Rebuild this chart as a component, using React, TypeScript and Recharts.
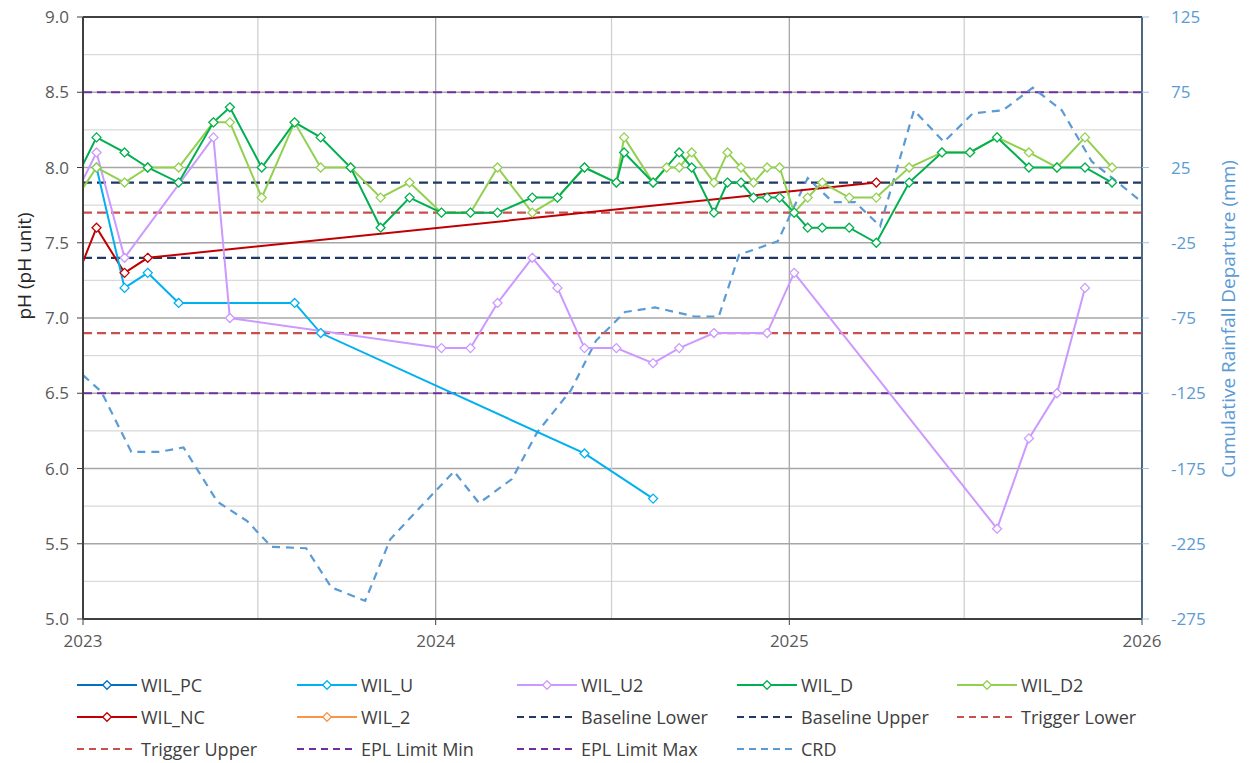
import React from 'react';
import { LineChart, Line, XAxis, YAxis, ReferenceLine } from 'recharts';

// ---------- data ----------
const X_START = '2023-01-01';
const X_END = '2026-01-01';
const yearTicks = ['2023-01-01', '2024-01-01', '2025-01-01', '2026-01-01'];
const minorXGrid = ['2023-07-01', '2024-07-01', '2025-07-01'];
const majorXGrid = ['2024-01-01', '2025-01-01'];
const phTicks = [5.0, 5.5, 6.0, 6.5, 7.0, 7.5, 8.0, 8.5, 9.0];
const phMinorGrid = [5.25, 5.75, 6.25, 6.75, 7.25, 7.75, 8.25, 8.75];
const phMajorGrid = [5.5, 6.0, 6.5, 7.0, 7.5, 8.0, 8.5];
const crdTicks = [125, 75, 25, -25, -75, -125, -175, -225, -275];

const wilPCDates: string[] = [];
const wilPCValues: number[] = [];
const wil2Dates: string[] = [];
const wil2Values: number[] = [];

const wilUDates = ['2023-01-15', '2023-02-13', '2023-03-09', '2023-04-10', '2023-08-08', '2023-09-04', '2024-06-03', '2024-08-13'];
const wilUValues = [8.0, 7.2, 7.3, 7.1, 7.1, 6.9, 6.1, 5.8];

const wilU2Dates = ['2022-12-15', '2023-01-15', '2023-02-13', '2023-05-16', '2023-06-02', '2024-01-07', '2024-02-06', '2024-03-05', '2024-04-10', '2024-05-06', '2024-06-03', '2024-07-06', '2024-08-13', '2024-09-09', '2024-10-15', '2024-12-09', '2025-01-06', '2025-08-04', '2025-09-06', '2025-10-05', '2025-11-03'];
const wilU2Values = [7.7, 8.1, 7.4, 8.2, 7.0, 6.8, 6.8, 7.1, 7.4, 7.2, 6.8, 6.8, 6.7, 6.8, 6.9, 6.9, 7.3, 5.6, 6.2, 6.5, 7.2];

const wilDDates = ['2022-12-15', '2023-01-15', '2023-02-13', '2023-03-09', '2023-04-10', '2023-05-16', '2023-06-02', '2023-07-05', '2023-08-08', '2023-09-04', '2023-10-05', '2023-11-05', '2023-12-05', '2024-01-07', '2024-02-06', '2024-03-05', '2024-04-10', '2024-05-06', '2024-06-03', '2024-07-06', '2024-07-14', '2024-08-13', '2024-09-09', '2024-09-22', '2024-10-15', '2024-10-29', '2024-11-12', '2024-11-25', '2024-12-09', '2024-12-22', '2025-01-06', '2025-01-20', '2025-02-04', '2025-03-04', '2025-04-01', '2025-05-05', '2025-06-08', '2025-07-07', '2025-08-04', '2025-09-06', '2025-10-05', '2025-11-03', '2025-12-01'];
const wilDValues = [7.8, 8.2, 8.1, 8.0, 7.9, 8.3, 8.4, 8.0, 8.3, 8.2, 8.0, 7.6, 7.8, 7.7, 7.7, 7.7, 7.8, 7.8, 8.0, 7.9, 8.1, 7.9, 8.1, 8.0, 7.7, 7.9, 7.9, 7.8, 7.8, 7.8, 7.7, 7.6, 7.6, 7.6, 7.5, 7.9, 8.1, 8.1, 8.2, 8.0, 8.0, 8.0, 7.9];

const wilD2Dates = ['2022-12-15', '2023-01-15', '2023-02-13', '2023-03-09', '2023-04-10', '2023-05-16', '2023-06-02', '2023-07-05', '2023-08-08', '2023-09-04', '2023-10-05', '2023-11-05', '2023-12-05', '2024-01-07', '2024-02-06', '2024-03-05', '2024-04-10', '2024-05-06', '2024-06-03', '2024-07-06', '2024-07-14', '2024-08-13', '2024-08-27', '2024-09-09', '2024-09-22', '2024-10-15', '2024-10-29', '2024-11-12', '2024-11-25', '2024-12-09', '2024-12-22', '2025-01-06', '2025-01-20', '2025-02-04', '2025-03-04', '2025-04-01', '2025-05-05', '2025-06-08', '2025-07-07', '2025-08-04', '2025-09-06', '2025-10-05', '2025-11-03', '2025-12-01'];
const wilD2Values = [7.7, 8.0, 7.9, 8.0, 8.0, 8.3, 8.3, 7.8, 8.3, 8.0, 8.0, 7.8, 7.9, 7.7, 7.7, 8.0, 7.7, 7.8, 8.0, 7.9, 8.2, 7.9, 8.0, 8.0, 8.1, 7.9, 8.1, 8.0, 7.9, 8.0, 8.0, 7.7, 7.8, 7.9, 7.8, 7.8, 8.0, 8.1, 8.1, 8.2, 8.1, 8.0, 8.2, 8.0];

const wilNCDates = ['2022-12-15', '2023-01-15', '2023-02-13', '2023-03-09', '2025-04-01'];
const wilNCValues = [7.1, 7.6, 7.3, 7.4, 7.9];

const baselineLower = 7.4;
const baselineUpper = 7.9;
const triggerLower = 6.9;
const triggerUpper = 7.7;
const eplMin = 6.5;
const eplMax = 8.5;

const crdDates = ['2023-01-01', '2023-01-20', '2023-02-20', '2023-03-20', '2023-04-15', '2023-05-20', '2023-06-20', '2023-07-15', '2023-08-20', '2023-09-15', '2023-10-20', '2023-11-15', '2023-12-20', '2024-01-20', '2024-02-15', '2024-03-20', '2024-04-15', '2024-05-20', '2024-06-15', '2024-07-15', '2024-08-15', '2024-09-25', '2024-10-20', '2024-11-10', '2024-12-20', '2025-01-20', '2025-02-15', '2025-03-10', '2025-04-05', '2025-05-10', '2025-06-10', '2025-07-10', '2025-08-10', '2025-09-10', '2025-10-10', '2025-11-10', '2026-01-01'];
const crdValues = [-113, -124, -164, -164, -161, -197, -210, -227, -228, -254, -263, -222, -198, -177, -198, -182, -151, -123, -90, -71, -68, -74, -74, -33, -24, 18, 2, 2, -14, 63, 42, 61, 63, 78, 63, 29, 2];

// ---------- helpers ----------
const ts = (d: string) => Date.parse(d + 'T00:00:00Z');
const zip = (dates: string[], vals: number[]) => dates.map((d, i) => ({ x: ts(d), y: vals[i] }));
const flat = (v: number) => [{ x: ts(X_START), y: v }, { x: ts(X_END), y: v }];

const C = {
  pc: '#0070C0',
  u: '#00B0F0',
  u2: '#CC99FF',
  d: '#00B050',
  d2: '#92D050',
  nc: '#C00000',
  w2: '#F79646',
  base: '#1F3864',
  trig: '#C9504D',
  epl: '#7030A0',
  crd: '#5B9BD5',
};

const diamond = (color: string) => (p: any) => {
  const { cx, cy, index } = p;
  if (cx == null || cy == null || isNaN(cx) || isNaN(cy)) return <g key={`d${index}`} />;
  const r = 4.5;
  return (
    <path
      key={`d${index}`}
      d={`M${cx},${cy - r}L${cx + r},${cy}L${cx},${cy + r}L${cx - r},${cy}Z`}
      fill="#fff"
      stroke={color}
      strokeWidth={1.3}
    />
  );
};

const FONT = "'Open Sans', 'DejaVu Sans', sans-serif";
const DASH = '9 5';

const legendItems = [
  { name: 'WIL_PC', color: C.pc, dashed: false },
  { name: 'WIL_U', color: C.u, dashed: false },
  { name: 'WIL_U2', color: C.u2, dashed: false },
  { name: 'WIL_D', color: C.d, dashed: false },
  { name: 'WIL_D2', color: C.d2, dashed: false },
  { name: 'WIL_NC', color: C.nc, dashed: false },
  { name: 'WIL_2', color: C.w2, dashed: false },
  { name: 'Baseline Lower', color: C.base, dashed: true },
  { name: 'Baseline Upper', color: C.base, dashed: true },
  { name: 'Trigger Lower', color: C.trig, dashed: true },
  { name: 'Trigger Upper', color: C.trig, dashed: true },
  { name: 'EPL Limit Min', color: C.epl, dashed: true },
  { name: 'EPL Limit Max', color: C.epl, dashed: true },
  { name: 'CRD', color: C.crd, dashed: true },
];
const legendColX = [77, 297, 517, 737, 957];
const legendRowY = [685, 717, 749];

function LegendIcon({ color, dashed }: { color: string; dashed: boolean }) {
  return (
    <svg width={60} height={16} style={{ display: 'block' }}>
      <line x1={0} y1={8} x2={60} y2={8} stroke={color} strokeWidth={2.2} strokeDasharray={dashed ? '7 5' : undefined} />
      {!dashed && <path d="M30,3.7L34.3,8L30,12.3L25.7,8Z" fill="#fff" stroke={color} strokeWidth={1.3} />}
    </svg>
  );
}

export default function App() {
  const tickStyle = { fontSize: 17, fill: '#595959', fontFamily: FONT };
  const T0 = ts(X_START);
  const T1 = ts(X_END);
  return (
    <div style={{ position: 'absolute', left: 0, top: 0, width: 1249, height: 763, background: '#fff', fontFamily: FONT }}>
      <LineChart width={1249} height={763} margin={{ top: 17, right: 0, bottom: 114, left: 0 }}>
        <XAxis
          dataKey="x"
          type="number"
          domain={[T0, T1]}
          allowDataOverflow
          ticks={yearTicks.map(ts)}
          tickFormatter={(v: number) => String(new Date(v).getUTCFullYear())}
          tick={tickStyle}
          tickSize={6}
          tickMargin={10}
          height={30}
          axisLine={{ stroke: '#404040', strokeWidth: 2 }}
          tickLine={{ stroke: '#404040' }}
        />
        <YAxis
          yAxisId="left"
          type="number"
          domain={[5, 9]}
          ticks={phTicks}
          interval={0}
          allowDataOverflow
          tickFormatter={(v: number) => v.toFixed(1)}
          tick={tickStyle}
          width={83}
          tickSize={6}
          tickMargin={8}
          axisLine={{ stroke: '#404040', strokeWidth: 2 }}
          tickLine={{ stroke: '#404040' }}
        />
        <YAxis
          yAxisId="right"
          orientation="right"
          type="number"
          domain={[-275, 125]}
          ticks={crdTicks}
          interval={0}
          allowDataOverflow
          tick={{ ...tickStyle, fill: '#5B9BD5' }}
          width={107}
          tickSize={7}
          tickMargin={22}
          axisLine={{ stroke: '#4E6784', strokeWidth: 2 }}
          tickLine={{ stroke: '#9DC3E6' }}
        />

        {phMinorGrid.map((v) => (
          <ReferenceLine key={`hm${v}`} yAxisId="left" y={v} stroke="#D9D9D9" strokeWidth={1.3} />
        ))}
        {phMajorGrid.map((v) => (
          <ReferenceLine key={`hM${v}`} yAxisId="left" y={v} stroke="#A6A6A6" strokeWidth={1.3} />
        ))}
        {minorXGrid.map((d) => (
          <ReferenceLine key={`vm${d}`} yAxisId="left" x={ts(d)} stroke="#D0D0D0" strokeWidth={1.3} />
        ))}
        {majorXGrid.map((d) => (
          <ReferenceLine key={`vM${d}`} yAxisId="left" x={ts(d)} stroke="#A6A6A6" strokeWidth={1.3} />
        ))}
        <ReferenceLine yAxisId="left" y={9} stroke="#404040" strokeWidth={2} />

        <Line yAxisId="left" data={flat(eplMin)} dataKey="y" name="EPL Limit Min" stroke={C.epl} strokeWidth={2.2} strokeDasharray={DASH} dot={false} isAnimationActive={false} />
        <Line yAxisId="left" data={flat(eplMax)} dataKey="y" name="EPL Limit Max" stroke={C.epl} strokeWidth={2.2} strokeDasharray={DASH} dot={false} isAnimationActive={false} />
        <Line yAxisId="left" data={flat(triggerLower)} dataKey="y" name="Trigger Lower" stroke={C.trig} strokeWidth={2.2} strokeDasharray={DASH} dot={false} isAnimationActive={false} />
        <Line yAxisId="left" data={flat(triggerUpper)} dataKey="y" name="Trigger Upper" stroke={C.trig} strokeWidth={2.2} strokeDasharray={DASH} dot={false} isAnimationActive={false} />
        <Line yAxisId="left" data={flat(baselineLower)} dataKey="y" name="Baseline Lower" stroke={C.base} strokeWidth={2.2} strokeDasharray={DASH} dot={false} isAnimationActive={false} />
        <Line yAxisId="left" data={flat(baselineUpper)} dataKey="y" name="Baseline Upper" stroke={C.base} strokeWidth={2.2} strokeDasharray={DASH} dot={false} isAnimationActive={false} />

        <Line yAxisId="right" data={zip(crdDates, crdValues)} dataKey="y" name="CRD" stroke={C.crd} strokeWidth={2.2} strokeDasharray="8 6" dot={false} isAnimationActive={false} />

        <Line yAxisId="left" data={zip(wilPCDates, wilPCValues)} dataKey="y" name="WIL_PC" stroke={C.pc} strokeWidth={2} dot={diamond(C.pc)} isAnimationActive={false} />
        <Line yAxisId="left" data={zip(wil2Dates, wil2Values)} dataKey="y" name="WIL_2" stroke={C.w2} strokeWidth={2} dot={diamond(C.w2)} isAnimationActive={false} />
        <Line yAxisId="left" data={zip(wilNCDates, wilNCValues)} dataKey="y" name="WIL_NC" stroke={C.nc} strokeWidth={2} dot={diamond(C.nc)} isAnimationActive={false} />
        <Line yAxisId="left" data={zip(wilUDates, wilUValues)} dataKey="y" name="WIL_U" stroke={C.u} strokeWidth={2} dot={diamond(C.u)} isAnimationActive={false} />
        <Line yAxisId="left" data={zip(wilU2Dates, wilU2Values)} dataKey="y" name="WIL_U2" stroke={C.u2} strokeWidth={2} dot={diamond(C.u2)} isAnimationActive={false} />
        <Line yAxisId="left" data={zip(wilD2Dates, wilD2Values)} dataKey="y" name="WIL_D2" stroke={C.d2} strokeWidth={2} dot={diamond(C.d2)} isAnimationActive={false} />
        <Line yAxisId="left" data={zip(wilDDates, wilDValues)} dataKey="y" name="WIL_D" stroke={C.d} strokeWidth={2} dot={diamond(C.d)} isAnimationActive={false} />
      </LineChart>

      <div
        style={{
          position: 'absolute', left: 24, top: 266,
          transform: 'translate(-50%, -50%) rotate(-90deg)',
          whiteSpace: 'nowrap', fontSize: 19, color: '#262626', fontFamily: FONT,
        }}
      >
        pH (pH unit)
      </div>
      <div
        style={{
          position: 'absolute', left: 1228, top: 319,
          transform: 'translate(-50%, -50%) rotate(-90deg)',
          whiteSpace: 'nowrap', fontSize: 19, color: '#5B9BD5', fontFamily: FONT,
        }}
      >
        Cumulative Rainfall Departure (mm)
      </div>

      {legendItems.map((it, i) => {
        const col = i % 5;
        const row = Math.floor(i / 5);
        return (
          <div
            key={it.name}
            style={{
              position: 'absolute', left: legendColX[col], top: legendRowY[row] - 12, height: 24,
              display: 'flex', alignItems: 'center', whiteSpace: 'nowrap',
              fontSize: 18, color: '#404040', fontFamily: FONT,
            }}
          >
            <LegendIcon color={it.color} dashed={it.dashed} />
            <span style={{ marginLeft: 4 }}>{it.name}</span>
          </div>
        );
      })}
    </div>
  );
}
